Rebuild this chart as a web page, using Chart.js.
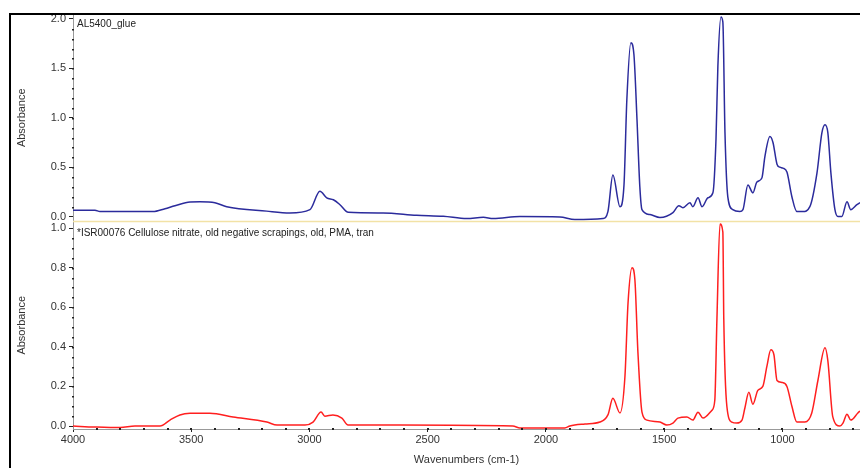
<!DOCTYPE html>
<html>
<head>
<meta charset="utf-8">
<script src="https://cdn.jsdelivr.net/npm/chart.js@4.4.0/dist/chart.umd.min.js"></script>
<style>
  html, body { margin: 0; padding: 0; background: #fff; }
  #wrap { position: relative; width: 860px; height: 468px; overflow: hidden; }
  #frame { position: absolute; left: 9px; top: 13px; right: -4px; bottom: -4px;
           border-left: 2px solid #000; border-top: 2px solid #000; pointer-events: none; }
  canvas { position: absolute; left: 0; top: 0; }
</style>
</head>
<body>
<div id="wrap">
  <canvas id="chart" width="860" height="468"></canvas>
  <div id="frame"></div>
</div>
<script>
// top spectrum: AL5400_glue
const glueWn = [4000, 3907, 3886, 3674, 3662, 3611, 3569, 3505, 3463, 3400, 3350, 3181, 3083,
  2998, 2956, 2927, 2899, 2871, 2836, 2689, 2547, 2434, 2335, 2265, 2223, 2110, 1941, 1878,
  1759, 1738, 1717, 1687, 1670, 1658, 1641, 1628, 1615, 1603, 1594, 1560, 1518, 1463, 1438,
  1421, 1391, 1379, 1357, 1340, 1315, 1294, 1281, 1273, 1260, 1252, 1243, 1231, 1210, 1180,
  1167, 1146, 1125, 1108, 1087, 1074, 1053, 1040, 1023, 1011, 998, 981, 960, 939, 914, 884,
  854, 833, 820, 808, 795, 778, 765, 749, 727, 711, 685, 672];
const glueAbs = [0.065, 0.065, 0.05, 0.05, 0.05, 0.08, 0.11, 0.148, 0.15, 0.14, 0.10, 0.055, 0.037,
  0.07, 0.256, 0.19, 0.17, 0.12, 0.043, 0.037, 0.013, 0.003, -0.02, -0.007, -0.02, 0.0, -0.005, -0.03,
  -0.02, 0.05, 0.42, 0.10, 0.32, 1.18, 1.76, 1.64, 0.98, 0.30, 0.07, 0.02, -0.01, 0.04, 0.11,
  0.09, 0.14, 0.10, 0.19, 0.10, 0.19, 0.24, 0.78, 1.52, 2.02, 1.97, 0.85, 0.20, 0.07, 0.05,
  0.07, 0.32, 0.24, 0.35, 0.39, 0.61, 0.81, 0.75, 0.53, 0.50, 0.49, 0.45, 0.20, 0.05, 0.05, 0.10,
  0.44, 0.85, 0.93, 0.85, 0.44, 0.07, 0.0, 0.0, 0.15, 0.07, 0.12, 0.14];

// bottom spectrum: ISR00076 cellulose nitrate
const nitrateWn = [4000, 3907, 3801, 3738, 3632, 3590, 3548, 3505, 3421, 3323, 3180, 3137, 3019,
  2985, 2951, 2935, 2901, 2863, 2837, 2617, 2140, 2110, 1920, 1899, 1835, 1772, 1738, 1717, 1687,
  1666, 1653, 1636, 1624, 1611, 1594, 1573, 1518, 1489, 1463, 1442, 1404, 1379, 1357, 1336, 1298,
  1286, 1277, 1264, 1252, 1248, 1235, 1214, 1193, 1171, 1159, 1142, 1125, 1104, 1083, 1066, 1049,
  1036, 1023, 1002, 981, 960, 939, 905, 876, 850, 820, 808, 787, 757, 744, 727, 711, 681, 672];
const nitrateAbs = [0.0, -0.005, -0.008, 0.0, 0.0, 0.03, 0.056, 0.064, 0.064, 0.046, 0.02, 0.005, 0.005,
  0.02, 0.071, 0.05, 0.056, 0.04, 0.005, 0.005, 0.0, -0.01, -0.01, 0.0, 0.01, 0.02, 0.056, 0.14, 0.066,
  0.25, 0.62, 0.80, 0.74, 0.37, 0.07, 0.03, 0.02, 0.005, 0.015, 0.04, 0.046, 0.03, 0.07, 0.04, 0.08,
  0.13, 0.54, 1.02, 0.98, 0.54, 0.10, 0.02, 0.015, 0.03, 0.09, 0.17, 0.11, 0.18, 0.20, 0.30, 0.385,
  0.36, 0.23, 0.22, 0.20, 0.10, 0.02, 0.02, 0.066, 0.23, 0.395, 0.33, 0.046, 0.0, 0.015, 0.06, 0.03, 0.066, 0.076];

const xTicks = [4000, 3500, 3000, 2500, 2000, 1500, 1000];
const yTopTicks = [0, 0.5, 1.0, 1.5, 2.0];
const yBotTicks = [0, 0.2, 0.4, 0.6, 0.8, 1.0];
const topLabel = 'AL5400_glue';
const bottomLabel = '*ISR00076 Cellulose nitrate, old negative scrapings, old, PMA, tran';

const FONT = "'Liberation Sans', Arial, sans-serif";
const toPoints = (wn, abs) => wn.map((w, i) => ({ x: w, y: abs[i] }));

// little dots on the axes between the labelled ticks, the separator and the spectrum names
const decorations = {
    id: 'decorations',
    afterDraw(chart) {
        const ctx = chart.ctx;
        const { x, yTop, yBot } = chart.scales;
        const area = chart.chartArea;
        ctx.save();

        // separator between the two panels
        ctx.strokeStyle = '#f2e2a6';
        ctx.lineWidth = 1.5;
        ctx.beginPath();
        ctx.moveTo(area.left, yTop.bottom);
        ctx.lineTo(area.right, yTop.bottom);
        ctx.stroke();

        ctx.fillStyle = '#222';
        for (let v = 3900; v >= 700; v -= 100) {
            const px = x.getPixelForValue(v);
            ctx.fillRect(Math.round(px) - 1, area.bottom - 1, 2, 2);
        }
        for (let v = 0.1; v < 2.0; v += 0.1) {
            ctx.fillRect(area.left - 1, Math.round(yTop.getPixelForValue(v)), 2, 1.5);
        }
        for (let v = 0.05; v < 1.0; v += 0.05) {
            ctx.fillRect(area.left - 1, Math.round(yBot.getPixelForValue(v)), 2, 1.5);
        }

        ctx.fillStyle = '#222';
        ctx.font = '10px ' + FONT;
        ctx.textBaseline = 'middle';
        ctx.textAlign = 'left';
        ctx.fillText(topLabel, area.left + 4, yTop.top + 10);
        ctx.fillText(bottomLabel, area.left + 4, yBot.top + 12);
        ctx.restore();
    }
};

function yAxis(ticks, min, max) {
    return {
        type: 'linear',
        position: 'left',
        stack: 'spectra',
        stackWeight: 1,
        min: min,
        max: max,
        afterFit: scale => { scale.width = 63; },
        afterBuildTicks: scale => { scale.ticks = ticks.map(v => ({ value: v })); },
        ticks: {
            color: '#333',
            font: { family: FONT, size: 11 },
            padding: 3,
            callback: v => v.toFixed(1)
        },
        grid: { display: true, drawOnChartArea: false, drawTicks: true, tickLength: 4, color: '#222' },
        border: { display: true, color: '#999', width: 1 },
        title: {
            display: true,
            text: 'Absorbance',
            color: '#333',
            font: { family: FONT, size: 11 },
            padding: { top: 5, bottom: 0 }
        }
    };
}

new Chart(document.getElementById('chart'), {
    type: 'line',
    data: {
        datasets: [
            {
                label: topLabel,
                data: toPoints(glueWn, glueAbs),
                yAxisID: 'yTop',
                borderColor: '#2b2b9c',
                borderWidth: 1.5,
                pointRadius: 0,
                cubicInterpolationMode: 'monotone'
            },
            {
                label: bottomLabel,
                data: toPoints(nitrateWn, nitrateAbs),
                yAxisID: 'yBot',
                borderColor: '#ff1f1f',
                borderWidth: 1.5,
                pointRadius: 0,
                cubicInterpolationMode: 'monotone'
            }
        ]
    },
    options: {
        responsive: false,
        animation: false,
        devicePixelRatio: 1,
        layout: { padding: { top: 14, left: 10, right: 0, bottom: 0 } },
        plugins: { legend: { display: false }, tooltip: { enabled: false } },
        scales: {
            x: {
                type: 'linear',
                min: 672,
                max: 4000,
                reverse: true,
                afterFit: scale => { scale.height = 39; },
                afterBuildTicks: scale => { scale.ticks = xTicks.map(v => ({ value: v })); },
                ticks: {
                    color: '#333',
                    font: { family: FONT, size: 11 },
                    padding: 1,
                    maxRotation: 0,
                    callback: v => String(v)
                },
                grid: { display: true, drawOnChartArea: false, drawTicks: true, tickLength: 3, color: '#222' },
                border: { display: true, color: '#999', width: 1 },
                title: {
                    display: true,
                    text: 'Wavenumbers (cm-1)',
                    color: '#333',
                    font: { family: FONT, size: 11 },
                    padding: { top: 0, bottom: 1.5 }
                }
            },
            yBot: yAxis(yBotTicks, -0.015, 1.033),
            yTop: yAxis(yTopTicks, -0.05, 2.05)
        }
    },
    plugins: [decorations]
});
</script>
</body>
</html>
